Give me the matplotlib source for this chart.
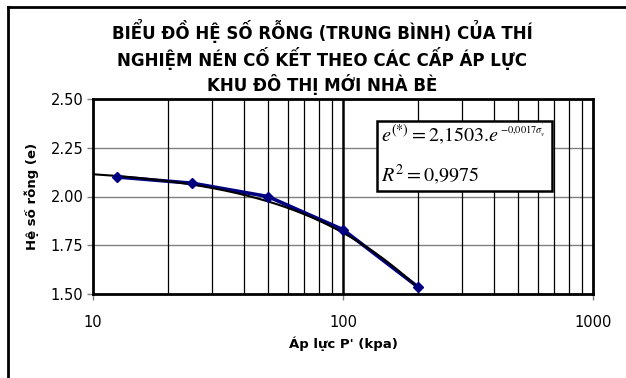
import numpy as np
import matplotlib
matplotlib.use("Agg")
import matplotlib.pyplot as plt
from matplotlib.lines import Line2D
from matplotlib.patches import Rectangle
from matplotlib.ticker import FixedLocator, FixedFormatter, NullFormatter

plt.rcParams['font.family'] = ['DejaVu Sans']
plt.rcParams['mathtext.fontset'] = 'stix'

# data
pressure = [12.5, 25, 50, 100, 200]
void_ratio = [2.10, 2.068, 2.00, 1.83, 1.535]

# fitted trendline e = a * exp(b * p)
fit_a = 2.1503
fit_b = -0.0017
fit_range = [10, 200]

x_ticks = [10, 100, 1000]
x_ticklabels = ['10', '100', '1000']
y_ticks = [1.50, 1.75, 2.00, 2.25, 2.50]
y_ticklabels = ['1.50', '1.75', '2.00', '2.25', '2.50']

title = ("BIỂU ĐỒ HỆ SỐ RỖNG (TRUNG BÌNH) CỦA THÍ\n"
         "NGHIỆM NÉN CỐ KẾT THEO CÁC CẤP ÁP LỰC\n"
         "KHU ĐÔ THỊ MỚI NHÀ BÈ")

fig = plt.figure(figsize=(6.26, 3.78), dpi=100)
ax = fig.add_axes([93/626, 1-294/378, 500/626, 195/378])

ax.set_xscale('log')
ax.set_xlim(10, 1000)
ax.set_ylim(1.5, 2.5)

# grid: grey horizontals, black verticals (major thicker)
for yv in y_ticks[1:-1]:
    ax.axhline(yv, color='#808080', lw=1.0, zorder=1)
minor_x = [m * d for d in (10, 100) for m in range(2, 10)]
for xv in minor_x:
    ax.axvline(xv, color='black', lw=0.9, zorder=1)
ax.axvline(100, color='black', lw=1.8, zorder=1)

ax.xaxis.set_major_locator(FixedLocator(x_ticks))
ax.xaxis.set_major_formatter(FixedFormatter(x_ticklabels))
ax.xaxis.set_minor_locator(FixedLocator([]))
ax.xaxis.set_minor_formatter(NullFormatter())
ax.yaxis.set_major_locator(FixedLocator(y_ticks))
ax.yaxis.set_major_formatter(FixedFormatter(y_ticklabels))
ax.tick_params(axis='both', direction='out', length=4, width=1, color='#808080',
               labelsize=10.5, pad=3)
ax.tick_params(axis='x', pad=11)

for s in ax.spines.values():
    s.set_linewidth(2)
    s.set_color('black')

# data series + trendline
ax.plot(pressure, void_ratio, color='#000080', lw=2.6, zorder=3)
xs = np.linspace(fit_range[0], fit_range[1], 200)
ax.plot(xs, fit_a * np.exp(fit_b * xs), color='black', lw=1.5, zorder=4)
ax.plot(pressure, void_ratio, ls='none', marker='D', ms=5.5, color='#000080',
        zorder=5)

# equation box
ax.add_patch(Rectangle((0.568, 0.528), 0.35, 0.359, transform=ax.transAxes,
                       facecolor='white', edgecolor='black', lw=1.8, zorder=6))
eq1 = ax.text(0.576, 0.78, r"$e^{(*)} = 2{,}1503.\!e$",
              transform=ax.transAxes, fontsize=14.5, va='baseline', ha='left',
              zorder=7)
ax.annotate(r"$-0{,}0017\sigma_v^{'}$", xy=(1.01, 0.52), xycoords=eq1,
            fontsize=7.5, va='baseline', ha='left', zorder=8,
            annotation_clip=False)
ax.text(0.576, 0.58, r"$R^2 = 0{,}9975$",
        transform=ax.transAxes, fontsize=14.5, va='baseline', ha='left', zorder=7)

ax.set_xlabel("Áp lực P' (kpa)", fontsize=9.5, fontweight='bold', labelpad=5)
ax.set_ylabel("Hệ số rỗng (e)", fontsize=9.5, fontweight='bold', labelpad=8)

fig.text(0.515, 1-57/378, title, ha='center', va='center', fontsize=12,
         fontweight='bold', linespacing=1.22)

# outer chart frame (left + top edges visible)
fig.add_artist(Line2D([8/626, 8/626], [0, 1-7/378], color='black', lw=2,
                      transform=fig.transFigure))
fig.add_artist(Line2D([8/626, 1], [1-7/378, 1-7/378], color='black', lw=2,
                      transform=fig.transFigure))

fig.savefig('out.png', dpi=100)
